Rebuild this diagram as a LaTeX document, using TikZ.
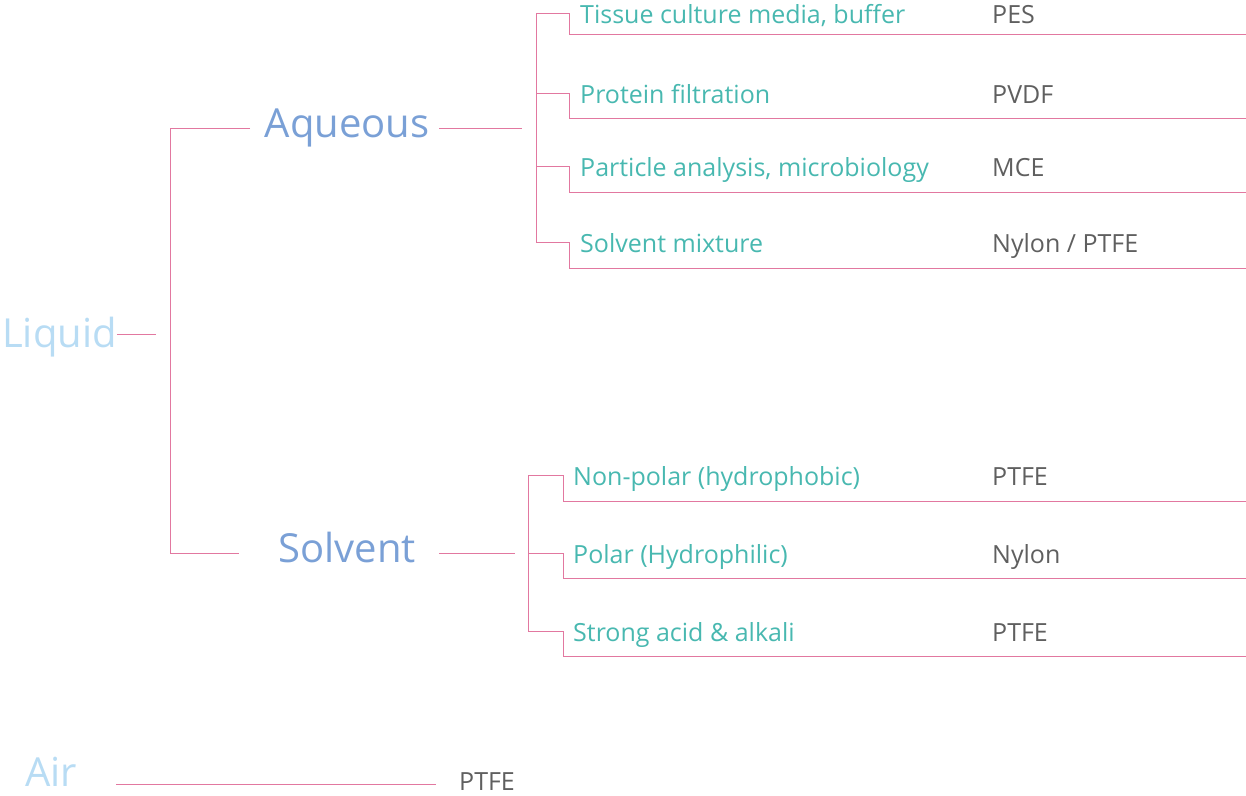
\documentclass[tikz,border=0pt]{standalone}
\usepackage{fontspec}
\setmainfont{Open Sans}
\usetikzlibrary{positioning}
\definecolor{linkpink}{RGB}{226,120,160}
\definecolor{rootblue}{RGB}{184,220,244}
\definecolor{groupblue}{RGB}{122,160,214}
\definecolor{useteal}{RGB}{72,184,176}
\definecolor{matgray}{RGB}{95,95,95}
\tikzstyle{branch} = [draw=linkpink,
                      line width=1pt]
\tikzstyle{root} = [text=rootblue,
                    inner sep=0pt,
                    font=\fontsize{40}{40}\selectfont]
\tikzstyle{group} = [text=groupblue,
                     inner sep=0pt,
                     font=\fontsize{40}{40}\selectfont]
\tikzstyle{usage} = [text=useteal,
                     inner sep=0pt,
                     anchor=base west,
                     font=\fontsize{25}{25}\selectfont]
\tikzstyle{material} = [text=matgray,
                        inner sep=0pt,
                        anchor=base west,
                        font=\fontsize{25}{25}\selectfont]

\begin{document}
\begin{tikzpicture}[x=1pt,y=-1pt]
\useasboundingbox (0,0) rectangle (1246,795);

% liquid and its two groups
\node (liquid) [root, anchor=base west] at (2,347) {Liquid};
\coordinate (liquidEnd) at (156,334);
\draw[branch] (liquid.east |- liquidEnd) -- (liquidEnd);
\coordinate (aqIn) at (250,128);
\coordinate (solIn) at (239,553);
\draw[branch] (aqIn) -- (170,128) -- (170,553) -- (solIn);

\node (aqueous) [group, anchor=base] at (347,137) {Aqueous};
\node (solvent) [group, anchor=base] at (347,562) {Solvent};
\coordinate (aqOut) at (522,128);
\coordinate (solOut) at (515,553);
\draw[branch] (439,128) -- (aqOut);
\draw[branch] (439,553) -- (solOut);

% aqueous uses
\draw[branch] (536,13) -- (536,242);
\foreach \i/\y/\d/\use/\mat in {1/13/34/{Tissue culture media, buffer}/PES,
                               2/93/118/Protein filtration/PVDF,
                               3/166/192/{Particle analysis, microbiology}/MCE,
                               4/242/268/Solvent mixture/{Nylon / PTFE}}{
  \coordinate (aqStep\i) at (569,\y);
  \node (aqUse\i) [usage] at (580,\y+10) {\use};
  \node (aqMat\i) [material] at (992,\y+10) {\mat};
  \draw[branch] (536,\y) -- (aqStep\i) -- (569,\d) -- (1246,\d);
}

% solvent uses
\draw[branch] (528,475) -- (528,631);
\foreach \i/\y/\d/\use/\mat in {1/475/501/Non-polar (hydrophobic)/PTFE,
                               2/553/578/Polar (Hydrophilic)/Nylon,
                               3/631/656/Strong acid \& alkali/PTFE}{
  \coordinate (solStep\i) at (563,\y);
  \node (solUse\i) [usage] at (573,\y+10) {\use};
  \node (solMat\i) [material] at (992,\y+10) {\mat};
  \draw[branch] (528,\y) -- (solStep\i) -- (563,\d) -- (1246,\d);
}

% air
\node (air) [root, anchor=base west] at (25,786) {Air};
\node (airMat) [material] at (459,790) {PTFE};
\coordinate (airStart) at (116,784);
\coordinate (airEnd) at (436,784);
\draw[branch] (airStart) -- (airEnd);
\end{tikzpicture}
\end{document}
